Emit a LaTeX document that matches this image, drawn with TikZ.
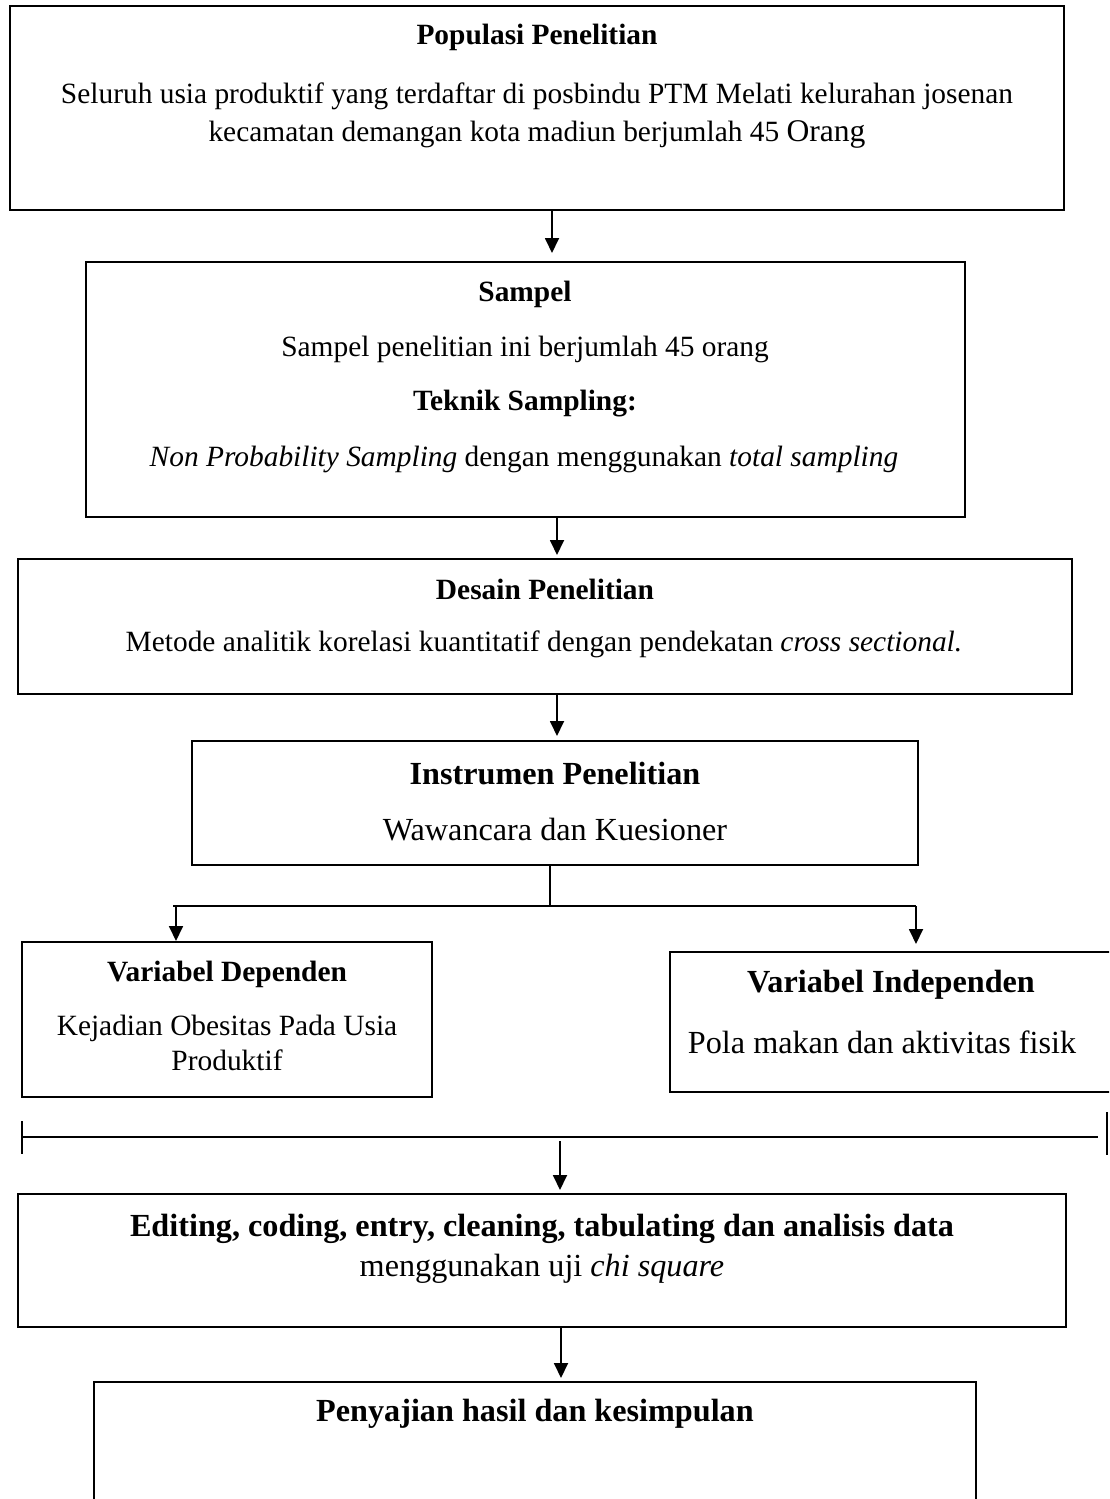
\documentclass[tikz,border=0pt]{standalone}
\usepackage{fontspec}
\setmainfont{Liberation Serif}
\usetikzlibrary{fit,arrows.meta}
\begin{document}
\begin{tikzpicture}[x=0.5pt,y=-0.5pt,
  box/.style={draw, line width=1pt, inner sep=0pt},
  conn/.style={line width=0.9pt},
  arr/.style={conn, -{Triangle[width=7pt,length=7.5pt]}},
  tn/.style={inner sep=0pt, font=\fontsize{14.7pt}{17pt}\selectfont},
  tb/.style={inner sep=0pt, font=\fontsize{14.7pt}{17pt}\selectfont\bfseries},
  tl/.style={inner sep=0pt, font=\fontsize{16.1pt}{18pt}\selectfont},
  tlb/.style={inner sep=0pt, font=\fontsize{16.1pt}{18pt}\selectfont\bfseries}]
\clip (0,0) rectangle (1109,1499);
\fill[white] (0,0) rectangle (1109,1499);
% boxes
\node[box, fit={(10,6)(1064,210)}] (b1) {};
\node[box, fit={(86,262)(965,517)}] (b2) {};
\node[box, fit={(18,559)(1072,694)}] (b3) {};
\node[box, fit={(192,741)(918,865)}] (b4) {};
\node[box, fit={(22,942)(432,1097)}] (bl) {};
\node[box, fit={(670,952)(1130,1092)}] (br) {};
\node[box, fit={(18,1194)(1066,1327)}] (b5) {};
\node[box, fit={(94,1382)(976,1540)}] (b6) {};
% texts
\node[tb] (b1t) at (537,37) {Populasi Penelitian};
\node[tn] (b1a) at (537,96) {Seluruh usia produktif yang terdaftar di posbindu PTM Melati kelurahan josenan};
\node[tn] (b1b) at (537,134) {kecamatan demangan kota madiun berjumlah 45 {\fontsize{15.8pt}{17pt}\selectfont Orang}};
\node[tb] (b2t) at (525,294) {Sampel};
\node[tn] (b2a) at (525,349) {Sampel penelitian ini berjumlah 45 orang};
\node[tb] (b2b) at (525,404) {Teknik Sampling:};
\node[tn] (b2c) at (524,459) {\textit{Non Probability Sampling} dengan menggunakan \textit{total sampling}};
\node[tb] (b3t) at (545,589) {Desain Penelitian};
\node[tn] (b3a) at (544,644) {Metode analitik korelasi kuantitatif dengan pendekatan \textit{cross sectional.}};
\node[tlb] (b4t) at (555,774) {Instrumen Penelitian};
\node[tl] (b4a) at (555,830) {Wawancara dan Kuesioner};
\node[tb] (blt) at (227,974) {Variabel Dependen};
\node[tn] (bla) at (227,1028) {Kejadian Obesitas Pada Usia};
\node[tn] (blb) at (227,1060) {Produktif};
\node[tlb] (brt) at (891,985) {Variabel Independen};
\node[tl] (bra) at (882,1042) {Pola makan dan aktivitas fisik};
\node[tlb] (b5t) at (542,1229) {Editing, coding, entry, cleaning, tabulating dan analisis data};
\node[tl] (b5a) at (542,1269) {menggunakan uji \textit{chi square}};
\node[tlb] (b6t) at (535,1414) {Penyajian hasil dan kesimpulan};
% connectors
\coordinate (t12) at (552,253);
\draw[arr] (b1.south -| t12) -- (t12);
\coordinate (t23) at (557,555);
\draw[arr] (b2.south -| t23) -- (t23);
\coordinate (t34) at (557,736);
\draw[arr] (b3.south -| t34) -- (t34);
\coordinate (j) at (550,906);
\draw[conn] (b4.south -| j) -- (j);
\coordinate (jl) at (176,906);
\coordinate (jr) at (916,906);
\draw[conn] ([xshift=-1.5pt]jl) -- (jr);
\draw[arr] (jl) -- (jl |- bl.north);
\coordinate (tr) at (916,944);
\draw[arr] (jr) -- (tr);
\coordinate (hl) at (22,1137);
\coordinate (hr) at (1098,1137);
\draw[conn] (hl) -- (hr);
\draw[conn] (22,1121) -- (22,1154);
\draw[line width=1.3pt] (1107,1112) -- (1107,1155);
\coordinate (m5) at (560,1141);
\coordinate (t5) at (560,1190);
\draw[arr] (m5) -- (t5);
\coordinate (t56) at (561,1378);
\draw[arr] (b5.south -| t56) -- (t56);
\end{tikzpicture}
\end{document}
